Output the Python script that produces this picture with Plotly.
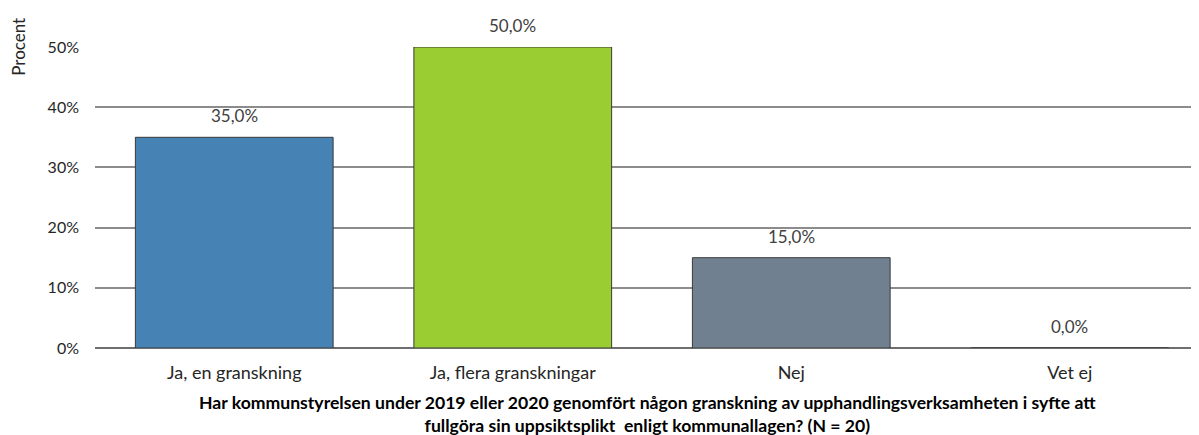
import plotly.graph_objects as go

categories = ["Ja, en granskning", "Ja, flera granskningar", "Nej", "Vet ej"]
values = [35.0, 50.0, 15.0, 0.0]
colors = ["#4682B4", "#9ACD32", "#708090", "#708090"]
y_ticks = [0, 10, 20, 30, 40, 50]
y_tick_labels = [f"{t}%" for t in y_ticks]
labels = [f"{v:.1f}%".replace(".", ",") for v in values]
x_title = ("Har kommunstyrelsen under 2019 eller 2020 genomfört någon granskning av upphandlingsverksamheten i syfte att<br>"
           "fullgöra sin uppsiktsplikt  enligt kommunallagen? (N = 20)")

FONT = "Lato"

fig = go.Figure(go.Bar(
    x=categories, y=values,
    marker=dict(color=colors, line=dict(color="#3a3a3a", width=1)),
    cliponaxis=False,
    width=0.71,
))

label_annotations = [
    dict(x=c, y=v, text=t, xref="x", yref="y", yanchor="bottom", yshift=9,
         showarrow=False, font=dict(family=FONT, size=17, color="#404040"))
    for c, v, t in zip(categories, values, labels)
]

fig.update_layout(
    width=1191, height=427,
    margin=dict(l=87, r=0, t=39, b=87),
    plot_bgcolor="white", paper_bgcolor="white",
    showlegend=False,
    font=dict(family=FONT, size=16, color="#262626"),
    xaxis=dict(range=[-0.5, 3.464], showgrid=False, ticks="", showline=False,
               tickfont=dict(size=18, color="#262626"), fixedrange=True,
               ticklabelstandoff=12),
    yaxis=dict(range=[0, 50], tickvals=y_ticks, ticktext=y_tick_labels,
               showgrid=True, gridcolor="#8c8c8c", gridwidth=1.5,
               zeroline=True, zerolinecolor="#6e6e6e", zerolinewidth=1.5,
               showline=False, ticks="", ticklabelstandoff=15,
               tickfont=dict(size=16, color="#262626")),
    annotations=label_annotations + [
        dict(text="Procent", textangle=-90, x=-0.07, xanchor="center",
             y=50, yanchor="middle", xref="paper", yref="y",
             showarrow=False, font=dict(size=17, color="#262626")),
        dict(text=f"<b>{x_title}</b>", x=0.5, y=0, xref="paper", yref="paper",
             yshift=-66, yanchor="middle", showarrow=False, align="center",
             font=dict(size=17.6, color="#000000")),
    ],
)

fig.write_html("out.html")
